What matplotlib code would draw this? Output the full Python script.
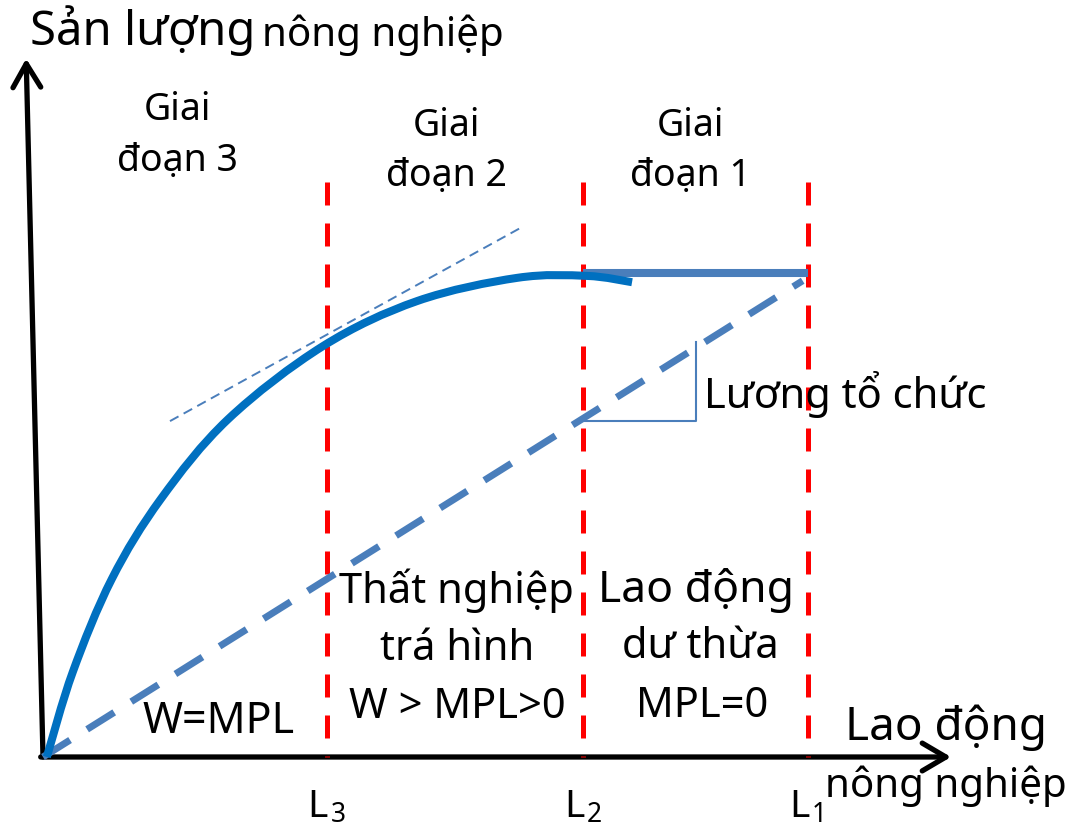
import matplotlib
matplotlib.use("Agg")
import matplotlib.pyplot as plt
import numpy as np
from matplotlib.path import Path
from matplotlib.patches import PathPatch

FONT = ['Noto Sans', 'DejaVu Sans']
plt.rcParams['font.family'] = FONT

# ---- data (labour on x, output on y; L1 = 100, max output = 100) ----
curve_x = [0.5, 3.9, 9.0, 15.4, 24.2, 36.6, 48.9, 62.0, 71.1, 77.0]
curve_y = [0.0, 17.6, 36.8, 53.3, 69.8, 84.9, 94.2, 99.0, 99.4, 98.1]
L_names = ['3', '2', '1']
L_values = [37.1, 70.6, 100.0]
flat_output = 100.0
wage_x = [0.0, 99.3]
wage_y = [0.0, 98.4]
tangent_x = [16.6, 62.4]
tangent_y = [69.4, 109.3]
bracket_x = [70.6, 85.4, 85.4]
bracket_y = [69.4, 69.4, 85.7]

CURVE = '#0070C0'
STEEL = '#4A7EBB'
RED = '#FF0000'

W, H = 1069, 829
fig = plt.figure(figsize=(W / 100, H / 100), dpi=100)
ax = fig.add_axes([43 / W, (H - 758) / H, 765 / W, 484 / H])
ax.set_xlim(0, 100)
ax.set_ylim(0, 100)
ax.axis('off')

# axes arrows
arrow_kw = dict(arrowstyle='->,head_length=0.85,head_width=0.5', lw=3.8,
                color='black', mutation_scale=20, shrinkA=0, shrinkB=0,
                capstyle='round', joinstyle='round')
ax.annotate('', xy=(118.7, 0.0), xytext=(-0.3, 0.0), arrowprops=arrow_kw, annotation_clip=False)
ax.annotate('', xy=(-2.2, 144.3), xytext=(0.0, 0.0), arrowprops=arrow_kw, annotation_clip=False)

# red stage boundaries (dash pattern starts at the top)
for L in L_values:
    ax.plot([L, L], [118.8, 0], color=RED, lw=3.6, dashes=(4.6, 3.6),
            clip_on=False, dash_capstyle='butt', zorder=3)

# wage (dashed) line
ax.plot(wage_x, wage_y, color=STEEL, lw=5.0, dashes=(4.6, 2.9),
        dash_capstyle='butt', clip_on=False, zorder=4)

# tangent
ax.plot(tangent_x, tangent_y, color=STEEL, lw=1.4, dashes=(5, 3), clip_on=False, zorder=2)

# production curve: smooth path through the read points
P = np.column_stack([curve_x, curve_y])
verts = [P[0]]
codes = [Path.MOVETO]
n = len(P)
for i in range(n - 1):
    p0 = P[i - 1] if i > 0 else P[i]
    p1, p2 = P[i], P[i + 1]
    p3 = P[i + 2] if i + 2 < n else P[i + 1]
    verts += [p1 + (p2 - p0) / 6.0, p2 - (p3 - p1) / 6.0, p2]
    codes += [Path.CURVE4] * 3
ax.add_patch(PathPatch(Path(verts, codes), fill=False, ec=CURVE, lw=5.8,
                       capstyle='butt', joinstyle='round', clip_on=False, zorder=5))

# flat segment MPL = 0
ax.plot([L_values[1], L_values[2]], [flat_output, flat_output], color=STEEL, lw=5.8,
        solid_capstyle='butt', clip_on=False, zorder=4)

# bracket
ax.plot(bracket_x, bracket_y, color=STEEL, lw=1.5, clip_on=False, zorder=4)

def T(x, y, s, size, ha='center'):
    return ax.text(x, y, s, fontsize=size, ha=ha, va='baseline', color='black',
                   family=FONT, clip_on=False, zorder=6)

# y-axis title
t = T(-1.7, 147.3, 'Sản lượng', 34, ha='left')
ax.annotate('nông nghiệp', xy=(1, 0), xycoords=t, xytext=(5, 0), textcoords='offset points',
            ha='left', va='bottom', fontsize=29, family=FONT, annotation_clip=False)

# stage titles
T(17.6, 131.8, 'Giai', 27)
T(17.6, 121.3, 'đoạn 3', 27)
T(52.7, 128.5, 'Giai', 27)
T(52.7, 118.2, 'đoạn 2', 27)
T(84.6, 128.5, 'Giai', 27)
T(84.6, 118.2, 'đoạn 1', 27)

T(86.4, 72.3, 'Lương tổ chức', 30, ha='left')

T(54.1, 32.0, 'Thất nghiệp', 30)
T(54.1, 20.2, 'trá hình', 30)
T(54.1, 8.3, 'W > MPL>0', 30)

T(85.4, 32.2, 'Lao động', 32)
T(85.9, 20.7, 'dư thừa', 30)
T(86.1, 8.5, 'MPL=0', 30)

T(22.9, 5.2, 'W=MPL', 31)

T(104.8, 3.7, 'Lao động', 33, ha='left')
T(102.2, -8.1, 'nông nghiệp', 29, ha='left')

for name, L in zip(L_names, L_values):
    T(L - 2.5, -12.2, 'L', 28, ha='left')
    T(L + 0.5, -13.3, name, 19, ha='left')

fig.savefig('out.png', dpi=100)
